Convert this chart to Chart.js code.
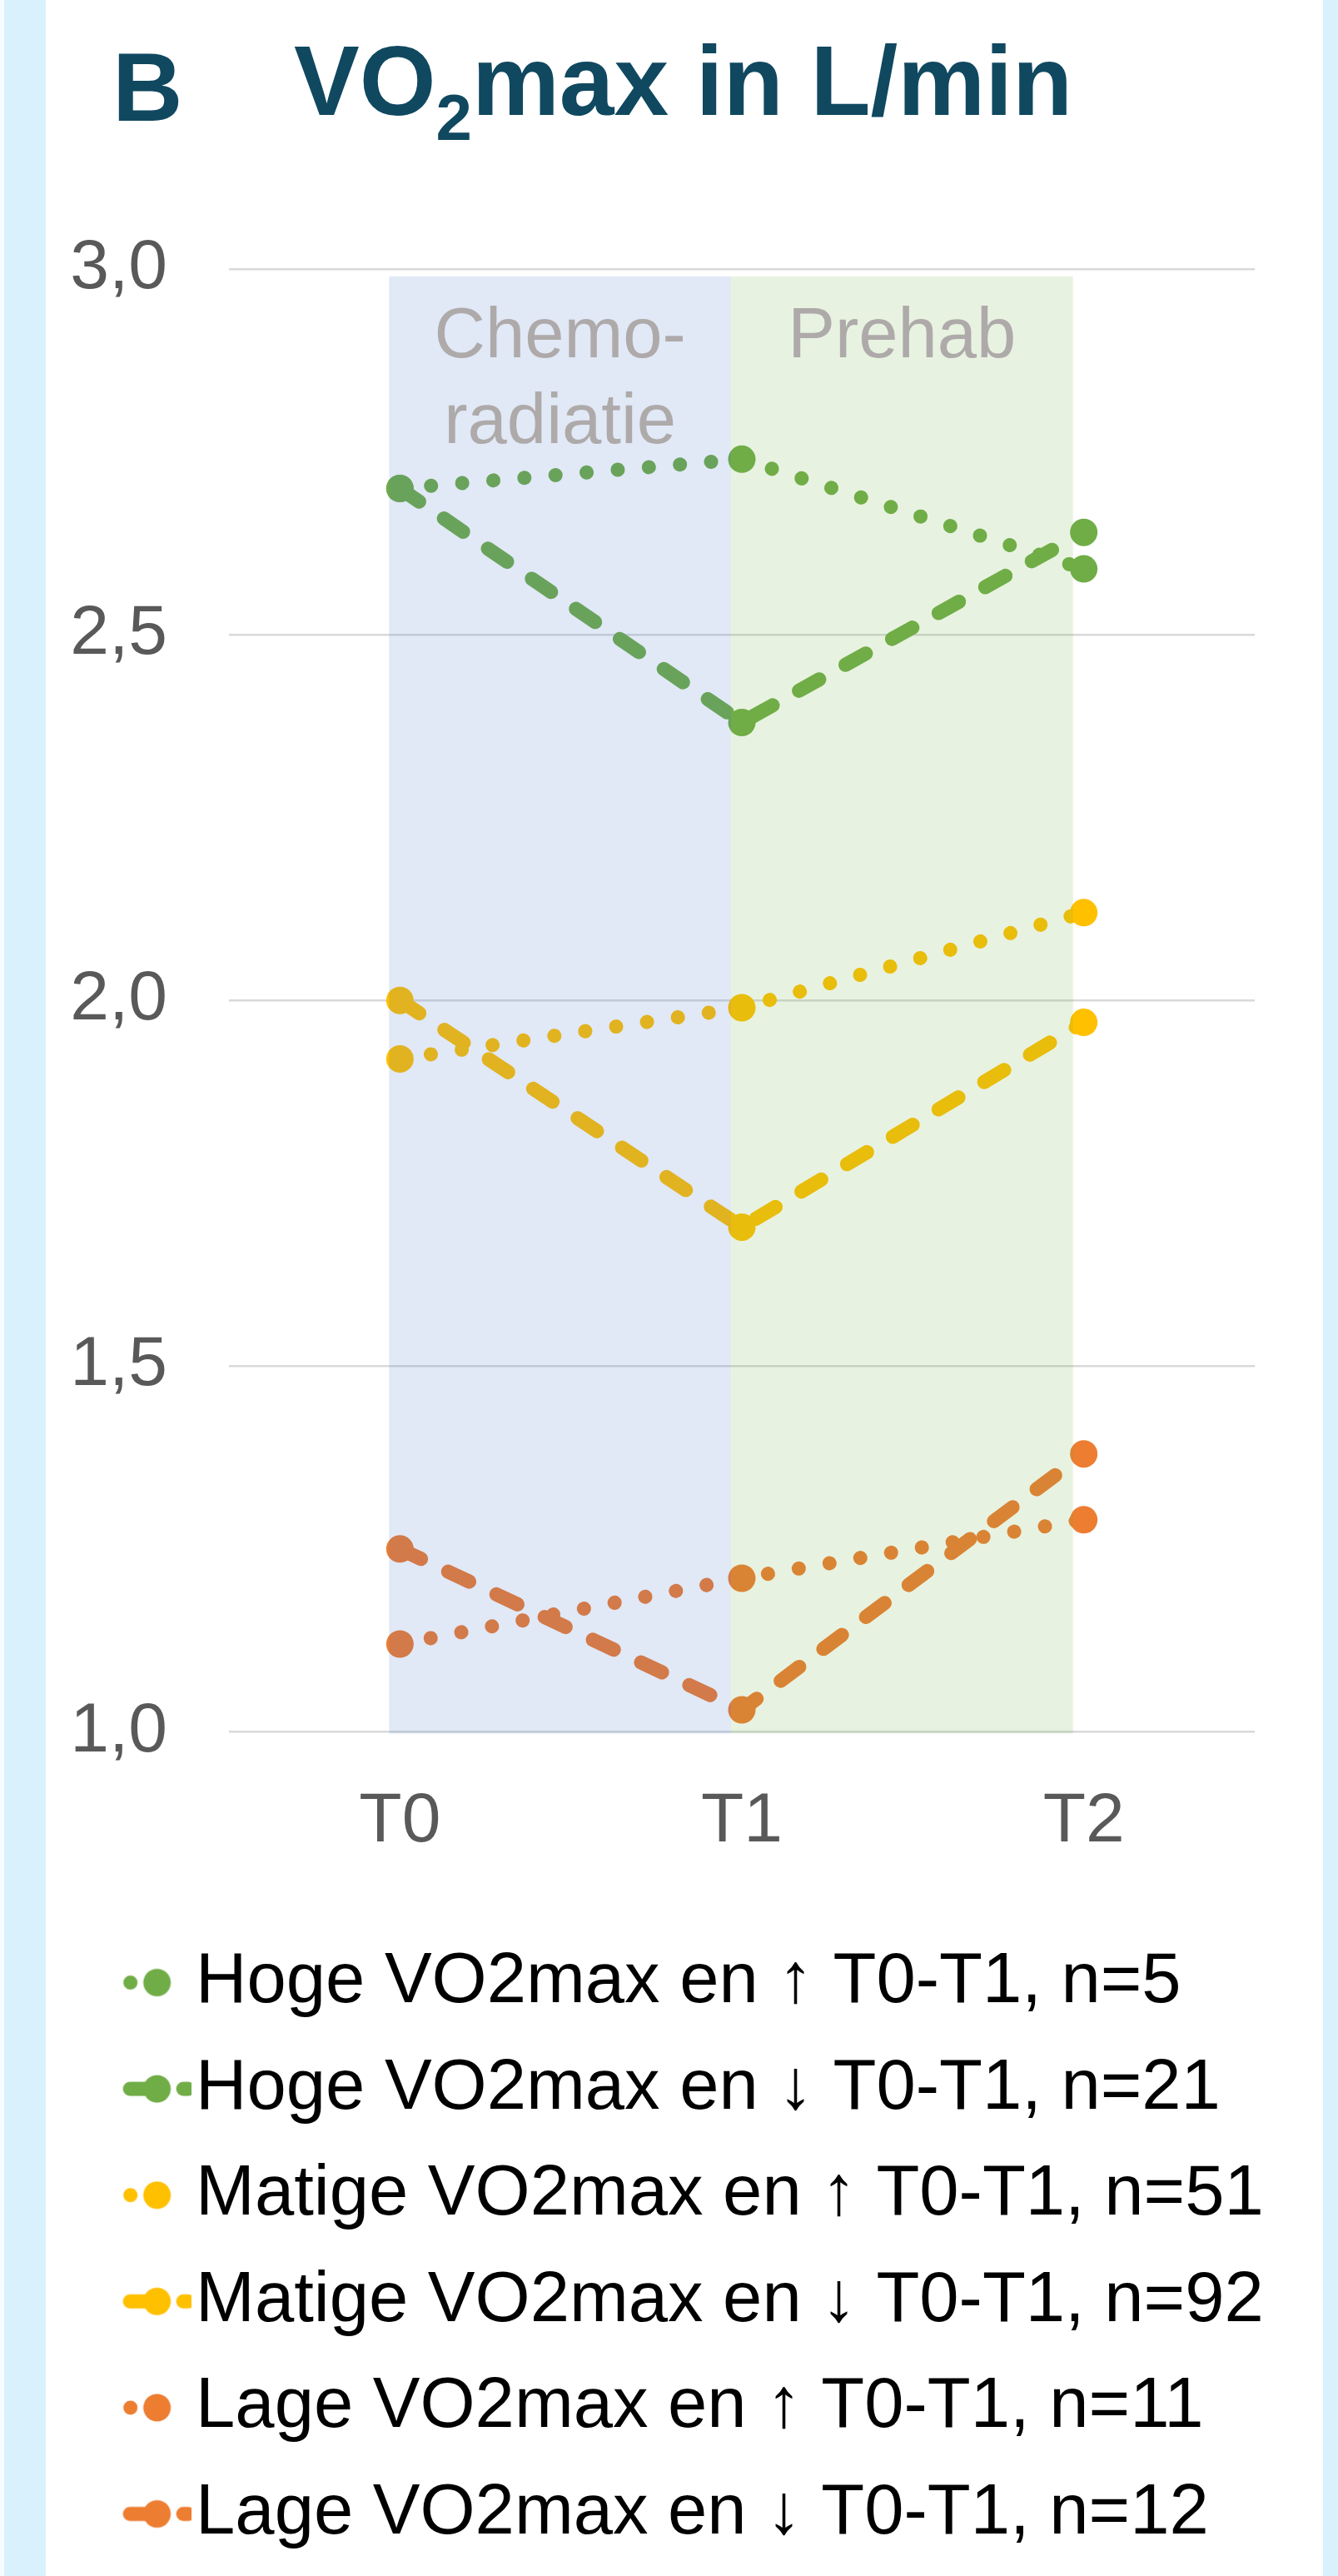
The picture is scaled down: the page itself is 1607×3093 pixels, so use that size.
<!DOCTYPE html>
<html>
<head>
<meta charset="utf-8">
<title>VO2max in L/min</title>
<script src="https://cdn.jsdelivr.net/npm/chart.js@4.4.0/dist/chart.umd.min.js"></script>
<style>
  html, body { margin: 0; padding: 0; overflow: hidden; }
  body {
    width: 1607px;
    height: 3093px;
    background: #F6FCFF;
    position: relative;
    font-family: 'Liberation Sans', Arial, sans-serif;
  }
  .strip { position: absolute; top: 0; height: 3093px; background: #D9F1FD; }
  #stripLeft { left: 5px; width: 50px; }
  #stripRight { left: 1589px; width: 18px; }
  #panel { position: absolute; left: 55px; top: 0; width: 1534px; height: 3093px; background: #fff; }
  .title { position: absolute; color: #104860; font-weight: bold; line-height: 1; white-space: nowrap; }
  #letter { left: 135px; top: 46px; font-size: 117px; }
  #heading { left: 353px; top: 38px; font-size: 118px; }
  #heading sub { font-size: 78px; vertical-align: baseline; position: relative; top: 30px; }
  #wrap { position: absolute; left: 55px; top: 0; width: 1530px; height: 3100px; }
</style>
</head>
<body>
<div class="strip" id="stripLeft"></div>
<div class="strip" id="stripRight"></div>
<div id="panel"></div>
<div class="title" id="letter">B</div>
<div class="title" id="heading">VO<sub>2</sub>max in L/min</div>
<div id="wrap"><canvas id="vo2Chart" width="1530" height="3100"></canvas></div>

<script>
// values (L/min)
const timepoints = ['T0', 'T1', 'T2'];
const hogeUp = [2.70, 2.74, 2.59];
const hogeDown = [2.70, 2.38, 2.64];
const matigeUp = [1.92, 1.99, 2.12];
const matigeDown = [2.00, 1.69, 1.97];
const lageUp = [1.12, 1.21, 1.29];
const lageDown = [1.25, 1.03, 1.38];

const seriesNames = [
  'Hoge VO2max en ↑ T0-T1, n=5',
  'Hoge VO2max en ↓ T0-T1, n=21',
  'Matige VO2max en ↑ T0-T1, n=51',
  'Matige VO2max en ↓ T0-T1, n=92',
  'Lage VO2max en ↑ T0-T1, n=11',
  'Lage VO2max en ↓ T0-T1, n=12'
];
const seriesValues = [hogeUp, hogeDown, matigeUp, matigeDown, lageUp, lageDown];

// phase shading between timepoints
const phaseLabels = [['Chemo-', 'radiatie'], ['Prehab']];

const GREEN = '#70AD47';
const YELLOW = '#FFC000';
const ORANGE = '#ED7D31';
const seriesColors = [GREEN, GREEN, YELLOW, YELLOW, ORANGE, ORANGE];
const seriesDotted = [true, false, true, false, true, false];
const phaseFills = ['rgba(68,114,196,0.16)', 'rgba(112,173,71,0.16)'];

const LINE_W = 17;
const DOT_DASH = [0.1, 37.4];
const LONG_DASH = [28, 36];
const FONT = "'Liberation Sans', Arial, sans-serif";

function legendMarker(color, dotted) {
  const c = document.createElement('canvas');
  c.width = 169;
  c.height = 36;
  const g = c.getContext('2d');
  g.strokeStyle = color;
  g.lineWidth = LINE_W;
  g.lineCap = 'round';
  g.setLineDash(dotted ? DOT_DASH : LONG_DASH);
  g.beginPath();
  g.moveTo(dotted ? 96 : 95.5, 18);
  g.lineTo(dotted ? 140 : 165, 18);
  g.stroke();
  g.setLineDash([]);
  g.fillStyle = color;
  g.beginPath();
  g.arc(128, 18, 16.5, 0, Math.PI * 2);
  g.fill();
  return c;
}

const markers = seriesColors.map((col, i) => legendMarker(col, seriesDotted[i]));

const phaseBands = {
  id: 'phaseBands',
  afterDatasetsDraw(chart) {
    const { ctx, chartArea, scales: { x, y } } = chart;
    const top = y.getPixelForValue(2.99);
    const bottom = chartArea.bottom + 2;
    ctx.save();
    phaseLabels.forEach((lines, i) => {
      const left = x.getPixelForValue(i) - 13;
      const right = x.getPixelForValue(i + 1) - 13;
      ctx.fillStyle = phaseFills[i];
      ctx.fillRect(left, top, right - left, bottom - top);
      ctx.fillStyle = '#AEAAAA';
      ctx.font = '85px ' + FONT;
      ctx.textAlign = 'center';
      ctx.textBaseline = 'alphabetic';
      lines.forEach((t, j) => {
        ctx.fillText(t, (left + right) / 2, chartArea.top + 106 + j * 103);
      });
    });
    ctx.restore();
  }
};

const datasets = seriesValues.map((vals, i) => ({
  label: seriesNames[i],
  data: vals,
  borderColor: seriesColors[i],
  backgroundColor: seriesColors[i],
  borderWidth: LINE_W,
  borderDash: seriesDotted[i] ? DOT_DASH : LONG_DASH,
  borderCapStyle: 'round',
  tension: 0,
  fill: false,
  pointRadius: 16.5,
  pointHoverRadius: 16.5,
  pointBorderWidth: 0,
  pointBackgroundColor: seriesColors[i]
}));

const ctx = document.getElementById('vo2Chart').getContext('2d');

new Chart(ctx, {
  type: 'line',
  data: {
    labels: timepoints,
    datasets: datasets
  },
  options: {
    responsive: false,
    animation: false,
    events: [],
    layout: {
      padding: { top: 323, right: 0, left: 0, bottom: 29 }
    },
    plugins: {
      tooltip: { enabled: false },
      legend: {
        position: 'bottom',
        align: 'start',
        labels: {
          usePointStyle: true,
          pointStyleWidth: 95,
          padding: 42.6,
          color: '#000000',
          font: { family: FONT, size: 85 },
          generateLabels: function(chart) {
            return chart.data.datasets.map((ds, i) => ({
              text: ds.label,
              pointStyle: markers[i],
              fillStyle: seriesColors[i],
              strokeStyle: seriesColors[i],
              lineWidth: 0,
              hidden: false,
              datasetIndex: i,
              fontColor: '#000000'
            }));
          }
        }
      }
    },
    scales: {
      x: {
        offset: true,
        grid: { display: false },
        border: { display: false },
        ticks: {
          padding: 50,
          color: '#595959',
          font: { family: FONT, size: 84 }
        },
        afterFit: function(scale) {
          scale.height = 216;
        }
      },
      y: {
        min: 1,
        max: 3,
        grid: { color: '#D9D9D9', lineWidth: 2.5, drawTicks: false },
        border: { display: false },
        ticks: {
          stepSize: 0.5,
          padding: 74,
          color: '#595959',
          font: { family: FONT, size: 84 },
          callback: function(value) {
            return value.toFixed(1).replace('.', ',');
          }
        },
        afterFit: function(scale) {
          scale.width = 220;
        }
      },
      // empty spacer on the right so the plot stops where the gridlines end
      spacer: {
        type: 'linear',
        position: 'right',
        grid: { display: false },
        border: { display: false },
        ticks: { display: false },
        afterFit: function(scale) {
          scale.width = 78;
        }
      }
    }
  },
  plugins: [phaseBands]
});
</script>
</body>
</html>
